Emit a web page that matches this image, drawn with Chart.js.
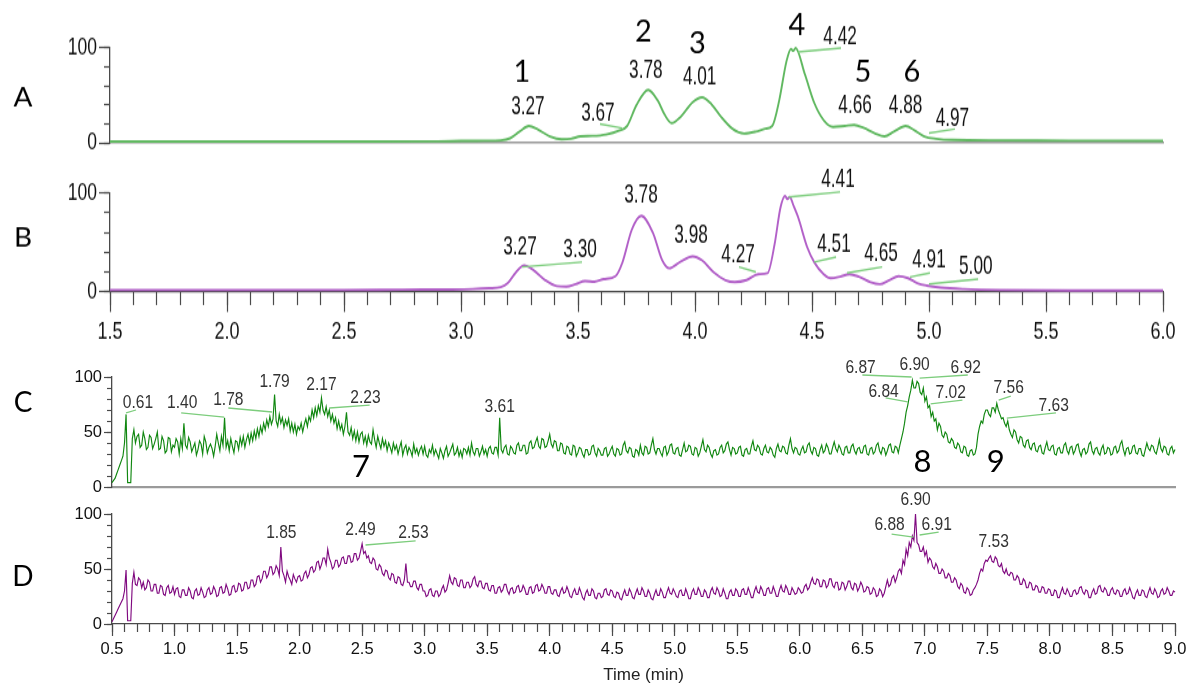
<!DOCTYPE html>
<html><head><meta charset="utf-8">
<script src="https://cdn.jsdelivr.net/npm/chart.js"></script>
<style>
html,body{margin:0;padding:0;background:#fff;}
#wrap{position:relative;width:1192px;height:688px;overflow:hidden;background:#fff;}
#wrap canvas{position:absolute;left:0;top:0;}
</style></head><body>
<div id="wrap">
<canvas id="cD" width="1192" height="688" style="width:1192px;height:688px"></canvas>
<canvas id="cC" width="1192" height="688" style="width:1192px;height:688px"></canvas>
<canvas id="cB" width="1192" height="530" style="width:1192px;height:688px"></canvas>
<canvas id="cA" width="1192" height="530" style="width:1192px;height:688px"></canvas>
</div>
<script>
// ---------------- DATA ----------------
const AB_TICK_LABELS = ['1.5','2.0','2.5','3.0','3.5','4.0','4.5','5.0','5.5','6.0'];
const CD_TICK_LABELS = ['0.5','1.0','1.5','2.0','2.5','3.0','3.5','4.0','4.5','5.0','5.5','6.0','6.5','7.0','7.5','8.0','8.5','9.0'];

const A_TIME   = [1.5,2.0,2.5,2.9,3.0,3.1,3.17,3.21,3.25,3.29,3.33,3.38,3.43,3.47,3.51,3.56,3.62,3.675,3.71,3.75,3.80,3.84,3.87,3.90,3.94,3.99,4.03,4.07,4.11,4.16,4.21,4.26,4.30,4.33,4.36,4.39,4.41,4.42,4.43,4.47,4.51,4.55,4.59,4.64,4.68,4.72,4.77,4.81,4.85,4.90,4.94,4.98,5.03,5.10,5.3,5.6,6.0];
const A_SIGNAL = [1.5,1.5,1.6,1.8,2.2,2.4,2.8,5,12,18,14,7,4,4.5,7,7.5,9,13,18,40,56,45,30,21,28,43,48,41,28,15,10,12,15,18,45,85,99,97,100,72,42,24,17,18,19,16,10,7,12,18,13,7,4.5,3.2,2.8,2.5,2.3];

const B_TIME   = [1.5,2.0,2.5,2.75,2.95,3.05,3.12,3.17,3.2,3.235,3.27,3.31,3.36,3.41,3.45,3.49,3.53,3.57,3.61,3.66,3.69,3.73,3.77,3.82,3.86,3.89,3.94,3.99,4.03,4.08,4.13,4.17,4.22,4.27,4.31,4.34,4.365,4.385,4.395,4.405,4.42,4.44,4.48,4.51,4.55,4.58,4.62,4.66,4.70,4.75,4.79,4.83,4.87,4.91,4.95,4.99,5.05,5.15,5.3,5.6,6.0];
const B_SIGNAL = [2,2,2,2.4,2.6,3,3.8,5,9,20,27,22,12,6,5.5,8,11,10.5,13,16,30,63,77,60,32,24,31,36,32,20,12,10,12,18,19,48,85,97,94,96,88,76,45,30,18,14,15.5,18,15.5,10,8,12,16,14,9,6.5,4.5,3,2,1.5,1.5];

// C and D: sampled every CD_STEP minutes starting at CD_START (40 samples per row = 0.5 min)
const CD_START = 0.5, CD_STEP = 0.0125;
const C_SIGNAL = [
 4,6,8,12,16,20,24,28,40,66, 4,4,4,44,52,40,46,48,36,38, 50,44,34,36,47,45,35,39,44,50, 34,35,46,42,31,33,45,44,32,38,
 36,44,41,30,44,35,58,38,35,45, 41,32,36,40,29,34,42,39,30,46, 41,31,36,39,35,28,37,48,40,33, 46,38,63,36,42,33,44,37,31,42,
 41,34,45,38,46,36,43,48,40,49, 42,51,44,53,46,55,49,58,52,61, 55,64,57,62,84,60,55,66,58,63, 54,61,56,62,51,58,50,57,48,55,
 52,58,50,57,62,55,64,60,70,63, 72,65,74,68,81,70,66,73,64,70, 60,66,58,63,53,60,52,57,48,55, 68,50,47,54,44,51,42,50,41,48,
 50,40,46,38,47,41,39,52,43,36, 46,40,35,44,37,42,33,40,36,31, 40,34,38,30,36,41,29,35,38,30, 36,33,28,39,31,35,29,34,37,30,
 37,29,27,34,31,38,29,34,30,26, 35,31,26,33,37,28,31,35,39,29, 31,36,28,33,27,35,34,30,36,29, 40,32,29,35,35,28,32,37,30,34,
 28,35,37,31,30,36,36,29,63,34, 31,36,38,30,29,37,35,31,30,38, 40,33,33,38,38,30,31,40,42,35, 36,41,45,37,35,44,43,36,37,42,
 48,39,36,42,41,33,33,40,39,31, 30,37,36,30,29,38,37,28,31,36, 35,30,27,34,34,29,30,37,38,31, 28,35,33,29,29,35,36,28,30,34,
 37,30,28,35,34,29,30,38,41,33, 31,36,35,28,27,34,33,29,38,31, 29,37,36,30,31,38,44,34,30,35, 35,31,28,36,37,29,32,38,39,31,
 30,35,36,29,28,34,40,32,33,38, 37,30,29,36,35,28,31,37,43,34, 32,38,36,30,27,33,34,29,30,36, 38,31,33,39,41,34,29,36,35,30,
 31,36,37,29,28,34,35,30,30,37, 42,34,33,38,36,30,29,35,38,32, 31,36,34,29,27,35,39,33,32,37, 36,31,30,38,44,35,31,36,35,30,
 29,34,37,31,32,38,40,33,30,36, 35,29,28,34,38,31,33,39,36,30, 30,36,41,35,32,38,35,30,29,36, 37,31,31,37,39,33,30,35,36,31,
 31,37,38,30,29,35,36,30,32,38, 40,33,30,36,35,29,33,38,39,32, 31,37,36,31,38,44,50,58,68,74, 82,88,97,90,90,96,94,86,84,90,
 78,82,72,74,64,68,60,62,52,58, 55,47,45,50,48,41,40,44,42,36, 35,40,38,32,31,37,36,29,28,33, 34,29,30,36,48,55,60,58,66,70,
 70,66,64,72,72,68,76,70,66,62, 63,58,55,60,52,48,45,52,50,43, 40,46,45,38,36,42,43,36,34,39, 40,33,32,37,38,31,30,36,41,34,
 33,37,38,30,29,35,36,31,31,38, 40,33,30,36,37,30,33,38,39,32, 28,34,35,30,32,39,41,33,30,35, 36,31,29,35,38,30,31,36,35,29,
 30,36,37,31,33,39,42,34,29,35, 36,30,31,37,38,31,30,35,35,29, 28,34,40,35,33,38,37,32,30,36, 43,35,32,37,36,30,29,35,37,31,
 34];
const D_SIGNAL = [
 2,5,8,11,14,17,20,23,30,49, 3,3,3,37,47,36,35,42,40,33, 38,31,33,40,38,30,30,36,36,28, 28,35,34,27,26,33,35,28,29,34,
 27,32,33,25,24,31,31,26,26,33, 30,24,23,30,32,26,27,33,29,24, 25,31,33,27,28,34,31,25,26,33, 34,28,29,36,32,26,27,34,35,29,
 30,37,36,30,31,38,38,32,33,40, 40,34,36,43,44,38,41,48,48,42, 45,52,52,45,47,53,50,44,70,48, 44,38,48,43,40,36,45,41,38,43,
 44,39,40,46,48,42,45,51,52,47, 49,56,57,50,54,60,60,54,68,60, 56,50,52,58,58,52,54,60,61,55, 55,62,62,56,57,64,64,58,60,66,
 73,64,66,60,62,56,55,60,58,50, 49,54,52,46,44,49,48,42,40,46, 45,38,37,43,42,36,35,40,55,38, 38,34,34,39,39,33,31,36,36,30,
 30,25,26,31,32,26,25,30,30,25, 27,32,35,29,31,37,44,38,36,42, 41,35,34,40,40,33,33,38,38,33, 35,41,43,36,34,39,39,33,32,37,
 37,31,30,35,35,28,28,33,34,29, 31,36,36,30,27,32,33,28,29,34, 35,29,30,35,32,27,27,33,34,28, 29,35,36,30,31,36,33,28,28,34,
 34,28,27,31,31,26,25,30,33,28, 29,34,30,25,24,29,32,27,27,33, 29,24,22,28,31,26,26,32,30,24, 23,28,28,24,25,31,32,27,26,31,
 30,25,24,29,28,23,22,27,31,26, 26,32,29,24,23,28,32,27,27,33, 30,25,25,31,28,23,22,27,31,26, 26,32,29,24,24,29,33,28,27,32,
 29,25,24,30,31,26,26,32,28,23, 23,29,32,27,27,33,30,25,25,31, 29,24,24,30,33,28,27,33,30,25, 26,32,28,23,23,29,31,26,26,32,
 30,25,25,31,32,27,27,33,29,24, 24,30,34,29,28,34,31,26,26,32, 33,28,28,34,30,25,25,31,35,30, 29,35,32,27,27,33,30,27,28,33,
 31,28,29,34,36,31,33,38,42,37, 36,41,40,34,34,40,39,33,35,41, 41,35,33,38,38,31,32,38,37,31, 34,39,39,33,31,37,36,30,33,38,
 35,29,30,34,33,27,28,33,31,25, 26,32,30,25,28,34,40,34,36,42, 44,38,42,48,50,46,58,54,68,62, 74,70,80,76,100,74,72,66,66,70,
 62,66,56,60,58,52,50,55,52,46, 46,50,48,42,42,46,44,38,38,42, 40,34,32,37,35,29,28,33,31,26, 27,31,33,36,40,46,50,48,55,58,
 57,60,62,57,56,61,59,53,52,55, 48,46,50,45,44,47,46,40,40,44, 42,36,36,41,39,33,33,38,37,31, 31,35,34,29,29,34,33,28,28,32,
 31,26,26,31,30,24,24,29,33,28, 27,32,29,25,25,30,31,27,28,33, 34,29,27,31,30,24,24,29,32,27, 28,34,35,30,29,33,31,26,26,31,
 33,28,27,31,30,25,25,30,32,27, 28,33,29,24,23,28,31,26,26,31, 30,25,24,29,33,28,27,32,29,24, 25,30,32,27,28,33,30,26,26,30,
 29];

// Peak annotations: [text, time, level]
const A_PEAK_LABELS = [['3.27',3.286,38],['3.67',3.585,32],['3.78',3.79,77],['4.01',4.02,69.5],['4.42',4.62,112.6],['4.66',4.684,40],['4.88',4.90,40],['4.97',5.10,25.3]];
const A_LEADERS = [[3.594,20,3.688,15.8],[4.44,95.8,4.624,100],[5.0,10.5,5.111,14.7]];
const A_PEAK_NUMBERS = [['1',3.26,74.7],['2',3.78,116.8],['3',4.01,105],['4',4.436,124],['5',4.718,73.7],['6',4.927,73.7]];

const B_PEAK_LABELS = [['3.27',3.252,45.5],['3.30',3.509,43.4],['3.78',3.769,98],['3.98',3.983,57.6],['4.27',4.184,37.4],['4.41',4.611,114],['4.51',4.594,48.5],['4.65',4.795,39.4],['4.91',5.0,32.3],['5.00',5.20,25.3]];
const B_LEADERS = [[3.261,25.3,3.517,30.3],[4.188,25.3,4.26,20.2],[4.40,96,4.62,101],[4.509,30.3,4.603,35.4],[4.65,19.2,4.8,25.3],[4.919,15.2,5.004,19.2],[5.0,8.1,5.21,13.1]];

const C_PEAK_LABELS = [['0.61',0.707,76.4],['1.40',1.061,76.4],['1.78',1.43,79],['1.79',1.80,95.5],['2.17',2.175,92.7],['2.23',2.527,81],['3.61',3.60,72.7],['6.87',6.486,108],['6.90',6.918,111],['6.92',7.327,108],['6.84',6.67,86.4],['7.02',7.207,85.5],['7.56',7.67,90],['7.63',8.03,73.6]];
const C_LEADERS = [[0.612,67.3,0.692,70],[1.053,67.3,1.397,63.6],[1.43,71.8,1.78,68.2],[2.239,71.8,2.56,74.5],[6.50,101.8,6.894,100],[6.958,99,7.343,101.8],[6.686,81,6.862,77.3],[7.046,75.5,7.30,79],[7.59,79,7.687,82.7],[7.655,62.7,8.048,67.3]];
const C_PEAK_NUMBERS = [['7',2.49,18],['8',6.98,22.7],['9',7.567,22.7]];

const D_PEAK_LABELS = [['1.85',1.854,82.7],['2.49',2.487,85.5],['2.53',2.91,82.7],['6.90',6.926,112.7],['6.88',6.718,90],['6.91',7.095,90],['7.53',7.55,74.5]];
const D_LEADERS = [[2.527,71.8,2.928,75.5],[6.734,81.8,6.91,79],[6.958,80.9,7.11,83.6]];

const PANEL_NAMES = ['A','B','C','D'];
const PANEL_NAME_LEVELS = [48,54.5,76,43];
const X_TITLE = 'Time (min)';

// ---------------- RENDERING ----------------
const SANS = "'Liberation Sans',Arial,sans-serif";
const ROUND = "Lato,'Open Sans','Noto Sans',sans-serif";
const K = 688 / 530;

function drawText(ctx, txt, x, y, font, sx, sy, color) {
  ctx.save();
  ctx.translate(x, y);
  ctx.scale(sx, sy);
  ctx.font = font; ctx.fillStyle = color;
  ctx.textAlign = 'center'; ctx.textBaseline = 'middle';
  ctx.fillText(txt, 0, 0);
  ctx.restore();
}

function notesPlugin(n) {
  return {
    id: 'notes',
    afterDatasetsDraw(chart) {
      const ctx = chart.ctx, xs = chart.scales.x, ys = chart.scales.y;
      const px = t => xs.getPixelForValue(t), py = v => ys.getPixelForValue(v);
      ctx.save();
      ctx.strokeStyle = 'rgb(125,205,125)';
      ctx.lineWidth = n.leaderWidth;
      (n.leaders || []).forEach(([t1, v1, t2, v2]) => {
        ctx.beginPath(); ctx.moveTo(px(t1), py(v1)); ctx.lineTo(px(t2), py(v2)); ctx.stroke();
      });
      (n.labels || []).forEach(([s, t, v]) => drawText(ctx, s, px(t), py(v), n.labelFont, 0.82, 1, n.labelColor));
      (n.bigs || []).forEach(([s, t, v]) => drawText(ctx, s, px(t), py(v), n.bigFont, 1, n.bigScale, '#000'));
      drawText(ctx, n.name, 23, py(n.nameLevel), "28px " + ROUND, 1, n.bigScale, '#000');
      ctx.restore();
    }
  };
}

function tickList(min, max, step) {
  const out = [];
  const n = Math.round((max - min) / step);
  for (let i = 0; i <= n; i++) out.push({ value: +(min + i * step).toFixed(3) });
  return out;
}

function makeChart(id, p) {
  const k = p.k, H = p.H;
  const top = p.top / k, bottom = p.bottom / k;
  const axisCol = '#4a4a4a';
  const scales = {
    x: {
      type: 'linear', axis: 'x', position: 'bottom', min: p.xMin, max: p.xMax,
      afterBuildTicks: s => { s.ticks = p.xLabels.map(l => ({ value: parseFloat(l) })); },
      afterFit: s => { s.height = H - bottom; },
      ticks: { display: p.showXLabels, autoSkip: false, maxRotation: 0, padding: p.xLabelPad,
               font: { family: SANS, size: p.xFont }, color: '#111',
               callback: (v, i) => p.xLabels[i] },
      grid: { display: p.xTicks, drawOnChartArea: false, drawTicks: true, tickLength: p.xMajorLen / k,
              tickColor: axisCol, tickWidth: 1.2 },
      border: { display: true, color: p.xBorderColor, width: p.xBorderWidth },
      title: { display: !!p.title, text: p.title || '', color: '#222', font: { family: SANS, size: 17 }, padding: { top: 0, bottom: 2 } }
    },
    xm: {
      type: 'linear', axis: 'x', position: { y: 0 }, min: p.xMin, max: p.xMax,
      afterBuildTicks: s => { s.ticks = tickList(p.xMin, p.xMax, 0.1); },
      ticks: { display: false, autoSkip: false },
      grid: { display: p.xTicks, drawOnChartArea: false, drawTicks: true, tickLength: p.xMinorLen / k,
              tickColor: axisCol, tickWidth: 1.2 },
      border: { display: false }
    },
    y: {
      type: 'linear', axis: 'y', position: 'left', min: 0, max: 100,
      afterBuildTicks: s => { s.ticks = tickList(0, 100, p.yMajor); },
      afterFit: s => { s.width = p.left; },
      ticks: { autoSkip: false, padding: 2, font: { family: SANS, size: p.yFont }, color: '#111' },
      grid: { display: true, drawOnChartArea: false, drawTicks: true, tickLength: p.yMajorLen, tickColor: axisCol, tickWidth: 1.2 },
      border: { display: true, color: axisCol, width: 1.3 }
    },
    ym: {
      type: 'linear', axis: 'y', position: { x: p.xMin }, min: 0, max: 100,
      afterBuildTicks: s => { s.ticks = tickList(0, 100, p.yMinor); },
      ticks: { display: false, autoSkip: false },
      grid: { display: true, drawOnChartArea: false, drawTicks: true, tickLength: p.yMinorLen, tickColor: axisCol, tickWidth: 1.2 },
      border: { display: false }
    }
  };
  return new Chart(document.getElementById(id), {
    type: 'line',
    data: { datasets: [{
      data: p.points, xAxisID: 'x', yAxisID: 'y',
      borderColor: p.color, borderWidth: p.lineWidth, pointRadius: 0, fill: false,
      tension: p.smooth ? 0.4 : 0, cubicInterpolationMode: p.smooth ? 'monotone' : 'default',
      clip: false
    }] },
    options: {
      responsive: false, animation: false, devicePixelRatio: 1, events: [],
      layout: { padding: { top: top, right: 1192 - p.right, bottom: 0, left: 0 } },
      plugins: { legend: { display: false }, tooltip: { enabled: false } },
      scales
    },
    plugins: [notesPlugin(p.notes)]
  });
}

const pairs = (ts, vs) => ts.map((t, i) => ({ x: t, y: vs[i] }));
const sampled = vs => vs.map((v, i) => ({ x: +(CD_START + i * CD_STEP).toFixed(4), y: v }));

const abCommon = { k: K, H: 530, left: 110, right: 1163, xMin: 1.5, xMax: 6.0, xLabels: AB_TICK_LABELS,
  xFont: 18, xLabelPad: 5, xMajorLen: 20, xMinorLen: 13, yMajor: 100, yMinor: 20, yMajorLen: 11, yMinorLen: 6, yFont: 17.5, smooth: true, lineWidth: 1.9 };
const cdCommon = { k: 1, H: 688, left: 112, right: 1175, xMin: 0.5, xMax: 9.0, xLabels: CD_TICK_LABELS,
  xFont: 16.5, xLabelPad: 4, xMajorLen: 12, xMinorLen: 8, yMajor: 50, yMinor: 10, yMajorLen: 8, yMinorLen: 5, yFont: 16.5, smooth: false, lineWidth: 1.15 };

makeChart('cA', Object.assign({}, abCommon, {
  top: 48, bottom: 143, points: pairs(A_TIME, A_SIGNAL), color: 'rgb(96,184,96)',
  showXLabels: false, xTicks: false, xBorderColor: '#9a9a9a', xBorderWidth: 1.6,
  notes: { labels: A_PEAK_LABELS, leaders: A_LEADERS, bigs: A_PEAK_NUMBERS, name: PANEL_NAMES[0], nameLevel: PANEL_NAME_LEVELS[0],
           labelFont: "21px " + SANS, labelColor: '#111', bigFont: "29px " + ROUND, bigScale: 1 / K, leaderWidth: 1.4 }
}));
makeChart('cB', Object.assign({}, abCommon, {
  top: 193, bottom: 292, points: pairs(B_TIME, B_SIGNAL), color: 'rgb(178,96,200)',
  showXLabels: true, xTicks: true, xBorderColor: '#4a4a4a', xBorderWidth: 1.2,
  notes: { labels: B_PEAK_LABELS, leaders: B_LEADERS, bigs: [], name: PANEL_NAMES[1], nameLevel: PANEL_NAME_LEVELS[1],
           labelFont: "21px " + SANS, labelColor: '#111', bigFont: "29px " + ROUND, bigScale: 1 / K, leaderWidth: 1.4 }
}));
makeChart('cC', Object.assign({}, cdCommon, {
  top: 377, bottom: 487, points: sampled(C_SIGNAL), color: 'rgb(16,135,16)',
  showXLabels: false, xTicks: false, xBorderColor: '#9a9a9a', xBorderWidth: 2.2,
  notes: { labels: C_PEAK_LABELS, leaders: C_LEADERS, bigs: C_PEAK_NUMBERS, name: PANEL_NAMES[2], nameLevel: PANEL_NAME_LEVELS[2],
           labelFont: "19px " + SANS, labelColor: '#333', bigFont: "31px " + ROUND, bigScale: 1, leaderWidth: 1.3 }
}));
makeChart('cD', Object.assign({}, cdCommon, {
  top: 514, bottom: 624, points: sampled(D_SIGNAL), color: 'rgb(128,10,128)',
  showXLabels: true, xTicks: true, xBorderColor: '#4a4a4a', xBorderWidth: 1.2, title: X_TITLE,
  notes: { labels: D_PEAK_LABELS, leaders: D_LEADERS, bigs: [], name: PANEL_NAMES[3], nameLevel: PANEL_NAME_LEVELS[3],
           labelFont: "19px " + SANS, labelColor: '#333', bigFont: "31px " + ROUND, bigScale: 1, leaderWidth: 1.3 }
}));
</script>
</body></html>
